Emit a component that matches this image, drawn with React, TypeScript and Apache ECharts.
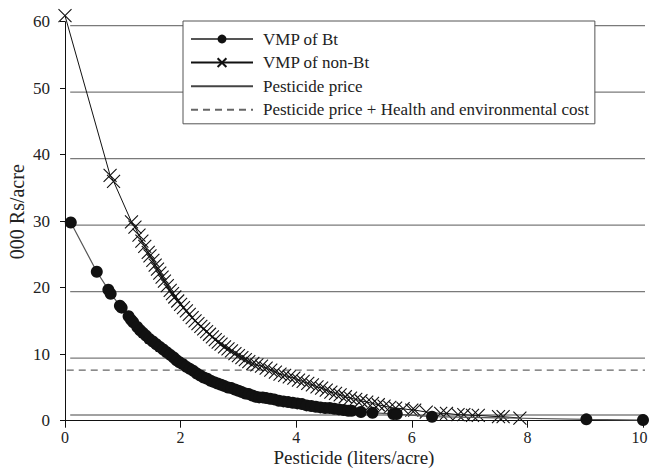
import React, { useEffect, useRef } from "react";
import * as echarts from "echarts";

const FONT = "'Liberation Serif', 'Times New Roman', serif";

// VMP of Bt (pesticide liters/acre, 000 Rs/acre)
const btPoints: [number, number][] = [
  [0.1, 29.8], [0.55, 22.4], [0.75, 19.7], [0.79, 19.1], [0.95, 17.3], [0.98, 17.0],
  [1.1, 15.7], [1.14, 15.2], [1.18, 14.8], [1.25, 14.1], [1.3, 13.6], [1.35, 13.2],
  [1.4, 12.8], [1.46, 12.3], [1.52, 11.9], [1.58, 11.5], [1.64, 11.1], [1.7, 10.7],
  [1.76, 10.3], [1.82, 9.9], [1.88, 9.5], [1.93, 9.1], [1.98, 8.8], [2.04, 8.5],
  [2.1, 8.1], [2.16, 7.8], [2.22, 7.5], [2.28, 7.1], [2.34, 6.8], [2.4, 6.5],
  [2.46, 6.3], [2.52, 6.0], [2.58, 5.8], [2.64, 5.6], [2.7, 5.4], [2.76, 5.2],
  [2.82, 5.0], [2.88, 4.9], [2.94, 4.7], [3.0, 4.5], [3.06, 4.3], [3.12, 4.1],
  [3.18, 4.0], [3.24, 3.8], [3.3, 3.6], [3.36, 3.5], [3.42, 3.5], [3.48, 3.4],
  [3.55, 3.3], [3.62, 3.2], [3.7, 3.0], [3.78, 2.9], [3.86, 2.8], [3.94, 2.7],
  [4.02, 2.6], [4.1, 2.5], [4.18, 2.3], [4.26, 2.2], [4.34, 2.1], [4.42, 2.0],
  [4.5, 1.9], [4.58, 1.9], [4.66, 1.8], [4.74, 1.7], [4.82, 1.6], [4.9, 1.5],
  [4.96, 1.5], [5.12, 1.3], [5.32, 1.2], [5.68, 1.0], [5.74, 1.0], [6.35, 0.6],
  [9.02, 0.2], [10.0, 0.1],
];

// VMP of non-Bt
const nonBtPoints: [number, number][] = [
  [0.0, 60.9], [0.78, 36.9], [0.84, 36.0], [1.15, 29.9], [1.21, 29.1], [1.28, 27.9],
  [1.33, 27.0], [1.38, 26.2], [1.44, 25.3], [1.47, 24.8], [1.52, 24.1], [1.56, 23.4],
  [1.6, 22.8], [1.64, 22.2], [1.68, 21.6], [1.72, 21.0], [1.77, 20.3], [1.82, 19.6],
  [1.86, 19.1], [1.9, 18.6], [1.95, 18.0], [2.0, 17.5], [2.05, 17.0], [2.1, 16.5],
  [2.15, 16.0], [2.2, 15.5], [2.25, 15.0], [2.3, 14.6], [2.35, 14.2], [2.4, 13.8],
  [2.45, 13.4], [2.5, 13.0], [2.55, 12.6], [2.6, 12.2], [2.65, 11.8], [2.7, 11.5],
  [2.76, 11.1], [2.82, 10.8], [2.88, 10.5], [2.94, 10.1], [3.0, 9.8], [3.06, 9.5],
  [3.12, 9.2], [3.18, 8.9], [3.25, 8.6], [3.32, 8.4], [3.4, 8.2], [3.48, 7.9],
  [3.56, 7.6], [3.64, 7.3], [3.72, 7.0], [3.8, 6.8], [3.88, 6.6], [3.96, 6.4],
  [4.04, 6.1], [4.12, 5.9], [4.2, 5.6], [4.28, 5.4], [4.36, 5.1], [4.44, 4.9],
  [4.52, 4.6], [4.6, 4.3], [4.68, 4.1], [4.76, 3.9], [4.85, 3.6], [4.94, 3.4],
  [5.03, 3.2], [5.12, 3.0], [5.22, 2.8], [5.32, 2.6], [5.42, 2.4], [5.52, 2.2],
  [5.62, 2.0], [5.72, 1.9], [5.85, 1.8], [6.0, 1.6], [6.05, 1.6], [6.25, 1.3],
  [6.5, 1.1], [6.6, 1.1], [6.8, 0.9], [6.9, 0.9], [7.05, 0.8], [7.15, 0.8],
  [7.5, 0.6], [7.58, 0.6], [7.87, 0.4],
];

const pesticidePrice = 0.86;
const priceWithCost = 7.6;
const gridLevels = [9.4, 19.4, 29.4, 39.4, 49.4, 59.4];
const lineStartX = 0.09;
const dashStartX = 0.03;
const lineEndX = 10.1;
const xMax = 10;

const legendNames = [
  "VMP of Bt",
  "VMP of non-Bt",
  "Pesticide price",
  "Pesticide price + Health and environmental cost",
];

export default function App() {
  const ref = useRef<HTMLDivElement>(null);
  useEffect(() => {
    if (!ref.current) return;
    const chart = echarts.init(ref.current, null, { renderer: "svg" });
    const gridSeries = gridLevels.map((v, i) => ({
      name: "grid" + i,
      type: "line",
      data: [[lineStartX, v], [lineEndX, v]],
      symbol: "none",
      clip: false,
      silent: true,
      lineStyle: { color: "#7a7a7a", width: 1.3 },
      z: 1,
    }));
    chart.setOption({
      animation: false,
      backgroundColor: "#fff",
      textStyle: { fontFamily: FONT },
      grid: { left: 65, right: 6, top: 21.7, bottom: 47.3, containLabel: false, outerBoundsMode: "none" },
      legend: {
        data: legendNames,
        orient: "vertical",
        left: 183,
        top: 21,
        padding: [9, 6, 5, 7],
        itemWidth: 62,
        itemHeight: 11,
        itemGap: 5.6,
        align: "left",
        borderColor: "#555",
        borderWidth: 1,
        backgroundColor: "#fff",
        selectedMode: false,
        textStyle: { fontFamily: FONT, fontSize: 17, color: "#222", lineHeight: 18, padding: [0, 0, 0, 5] },
        z: 10,
      },
      xAxis: {
        type: "value",
        min: 0,
        max: xMax,
        interval: 2,
        name: "Pesticide (liters/acre)",
        nameLocation: "middle",
        nameGap: 28.8,
        nameMoveOverlap: false,
        nameTextStyle: { fontFamily: FONT, fontSize: 19, color: "#222", lineHeight: 16 },
        axisLine: { lineStyle: { color: "#111", width: 1 } },
        axisTick: { length: 7, lineStyle: { color: "#111" } },
        axisLabel: {
          fontFamily: FONT,
          fontSize: 16,
          lineHeight: 14,
          color: "#222",
          margin: 10,
          formatter: (v: number) => (v === xMax ? "{r|" + v + "}" : String(v)),
          rich: { r: { fontFamily: FONT, fontSize: 16, lineHeight: 14, color: "#222", padding: [0, 7, 0, 0] } },
        },
        splitLine: { show: false },
      },
      yAxis: {
        type: "value",
        min: 0,
        max: 60,
        interval: 10,
        name: "000 Rs/acre",
        nameLocation: "middle",
        nameGap: 38,
        nameRotate: 90,
        nameMoveOverlap: false,
        nameTextStyle: { fontFamily: FONT, fontSize: 20, color: "#222", padding: [0, 0, 0, 19] },
        axisLine: { show: true, lineStyle: { color: "#111", width: 1 } },
        axisTick: { show: true, length: 5, lineStyle: { color: "#111" } },
        axisLabel: { fontFamily: FONT, fontSize: 17, color: "#222", margin: 15 },
        splitLine: { show: false },
      },
      series: [
        ...gridSeries,
        {
          name: "Pesticide price",
          type: "line",
          data: [[lineStartX, pesticidePrice], [lineEndX, pesticidePrice]],
          symbol: "circle",
          showSymbol: false,
          clip: false,
          lineStyle: { color: "#444", width: 1.2 },
          itemStyle: { color: "rgba(0,0,0,0)", borderWidth: 0 },
          z: 2,
        },
        {
          name: "Pesticide price + Health and environmental cost",
          type: "line",
          data: [[dashStartX, priceWithCost], [lineEndX, priceWithCost]],
          symbol: "circle",
          showSymbol: false,
          clip: false,
          lineStyle: { color: "#666", width: 1.2, type: [7, 5] },
          itemStyle: { color: "rgba(0,0,0,0)", borderWidth: 0 },
          z: 2,
        },
        {
          name: "VMP of non-Bt",
          type: "line",
          data: nonBtPoints,
          clip: false,
          symbol: "path://M0,0L10,10M10,0L0,10",
          symbolSize: 13,
          showAllSymbol: true,
          lineStyle: { color: "#111", width: 1 },
          itemStyle: { color: "none", borderColor: "#111", borderWidth: 1.1 },
          z: 3,
        },
        {
          name: "VMP of Bt",
          type: "line",
          data: btPoints,
          clip: false,
          symbol: "circle",
          symbolSize: 12,
          showAllSymbol: true,
          lineStyle: { color: "#555", width: 1.2 },
          itemStyle: { color: "#111", borderWidth: 0 },
          z: 4,
        },
      ],
    });
    return () => chart.dispose();
  }, []);
  return (
    <div
      ref={ref}
      style={{ position: "fixed", left: 0, top: 0, width: 649, height: 468, background: "#fff" }}
    />
  );
}
